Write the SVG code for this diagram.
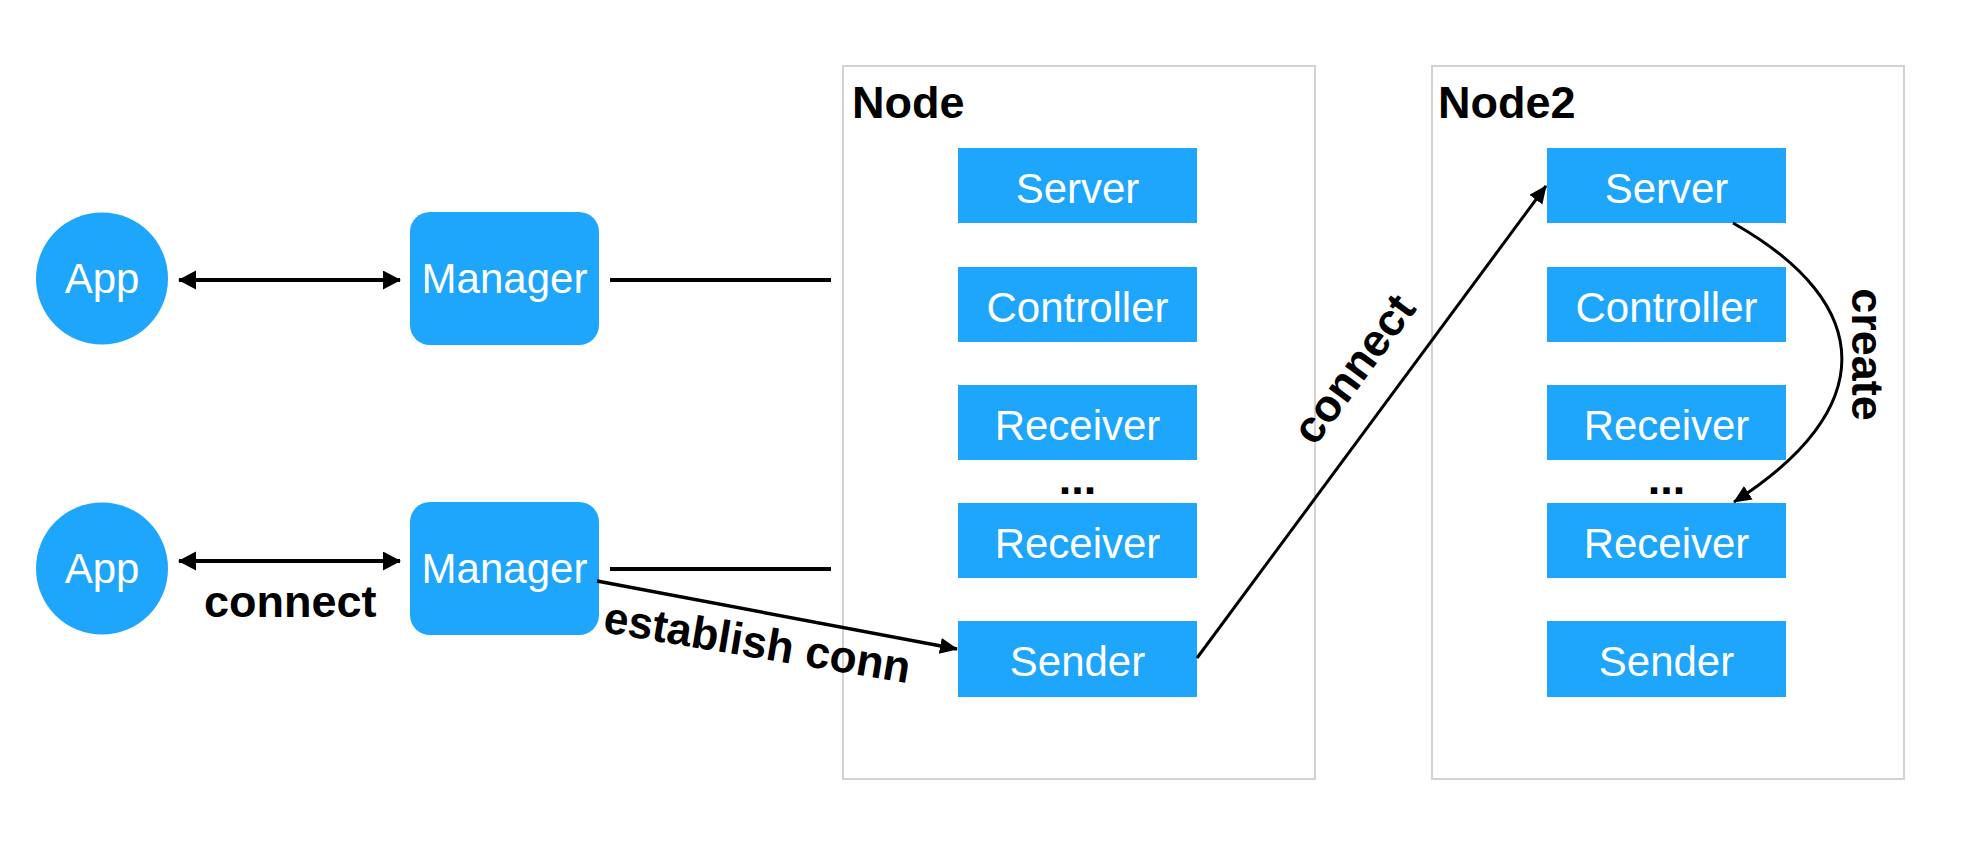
<svg xmlns="http://www.w3.org/2000/svg" width="1976" height="856" viewBox="0 0 1976 856">
<style>
.bg{fill:#ffffff}
.blue{fill:#1ea5fc}
.cont{fill:none;stroke:#d2d2d2;stroke-width:2}
.ntxt{font-family:"Liberation Sans",Arial,sans-serif;font-size:42px;fill:#ffffff;text-anchor:middle}
.lbl{font-family:"Liberation Sans",Arial,sans-serif;font-size:45px;font-weight:bold;fill:#000000}
.ln{fill:none;stroke:#000000}
</style>
<defs>
<marker id="ah" markerUnits="userSpaceOnUse" markerWidth="20" markerHeight="20" refX="17" refY="8" orient="auto-start-reverse">
<path d="M0,0 L18,8 L0,16 z" fill="#000000"/>
</marker>
<marker id="ah2" markerUnits="userSpaceOnUse" markerWidth="20" markerHeight="20" refX="17" refY="9.5" orient="auto-start-reverse">
<path d="M0,0 L18,9.5 L0,19 z" fill="#000000"/>
</marker>
</defs>
<rect class="bg" x="0" y="0" width="1976" height="856"/>

<g id="node1-container">
<rect class="cont" x="843" y="66" width="472" height="713"/>
<text class="lbl" x="852" y="118">Node</text>
</g>
<g id="node2-container">
<rect class="cont" x="1432" y="66" width="472" height="713"/>
<text class="lbl" x="1438" y="118">Node2</text>
</g>

<g id="app1">
<circle class="blue" cx="102" cy="278.5" r="66"/>
<text class="ntxt" x="102" y="293">App</text>
</g>
<g id="manager1">
<rect class="blue" x="410" y="212" width="189" height="133" rx="20" ry="20"/>
<text class="ntxt" x="504.5" y="293">Manager</text>
</g>
<g id="app2">
<circle class="blue" cx="102" cy="568.5" r="66"/>
<text class="ntxt" x="102" y="583">App</text>
</g>
<g id="manager2">
<rect class="blue" x="410" y="502" width="189" height="133" rx="20" ry="20"/>
<text class="ntxt" x="504.5" y="583">Manager</text>
</g>

<g id="n1-server"><rect class="blue" x="958" y="148" width="239" height="75"/><text class="ntxt" x="1077.5" y="203">Server</text></g>
<g id="n1-controller"><rect class="blue" x="958" y="267" width="239" height="75"/><text class="ntxt" x="1077.5" y="322">Controller</text></g>
<g id="n1-receiver1"><rect class="blue" x="958" y="385" width="239" height="75"/><text class="ntxt" x="1077.5" y="440">Receiver</text></g>
<g id="n1-dots"><text class="lbl" x="1077.5" y="494" text-anchor="middle">...</text></g>
<g id="n1-receiver2"><rect class="blue" x="958" y="503" width="239" height="75"/><text class="ntxt" x="1077.5" y="558">Receiver</text></g>
<g id="n1-sender"><rect class="blue" x="958" y="621" width="239" height="76"/><text class="ntxt" x="1077.5" y="676">Sender</text></g>

<g id="n2-server"><rect class="blue" x="1547" y="148" width="239" height="75"/><text class="ntxt" x="1666.5" y="203">Server</text></g>
<g id="n2-controller"><rect class="blue" x="1547" y="267" width="239" height="75"/><text class="ntxt" x="1666.5" y="322">Controller</text></g>
<g id="n2-receiver1"><rect class="blue" x="1547" y="385" width="239" height="75"/><text class="ntxt" x="1666.5" y="440">Receiver</text></g>
<g id="n2-dots"><text class="lbl" x="1666.5" y="494" text-anchor="middle">...</text></g>
<g id="n2-receiver2"><rect class="blue" x="1547" y="503" width="239" height="75"/><text class="ntxt" x="1666.5" y="558">Receiver</text></g>
<g id="n2-sender"><rect class="blue" x="1547" y="621" width="239" height="76"/><text class="ntxt" x="1666.5" y="676">Sender</text></g>

<g id="connectors">
<line class="ln" x1="179" y1="280" x2="400" y2="280" stroke-width="4" marker-start="url(#ah2)" marker-end="url(#ah2)"/>
<line class="ln" x1="610" y1="280" x2="831" y2="280" stroke-width="4"/>
<line class="ln" x1="179" y1="561" x2="400" y2="561" stroke-width="4" marker-start="url(#ah2)" marker-end="url(#ah2)"/>
<line class="ln" x1="610" y1="569" x2="831" y2="569" stroke-width="4"/>
<line class="ln" x1="597" y1="581" x2="957" y2="649" stroke-width="3.5" marker-end="url(#ah)"/>
<line class="ln" x1="1197" y1="658" x2="1546" y2="186" stroke-width="3" marker-end="url(#ah)"/>
<path class="ln" d="M1733,223 C1878,305 1878,410 1734,502" stroke-width="3" marker-end="url(#ah)"/>
<text class="lbl" x="204" y="617">connect</text>
<text class="lbl" x="602" y="632" transform="rotate(9.5 602 632)" textLength="310" lengthAdjust="spacingAndGlyphs">establish conn</text>
<text class="lbl" x="1366" y="378" text-anchor="middle" transform="rotate(-53.5 1366 378)">connect</text>
<text class="lbl" x="1852" y="354.5" text-anchor="middle" transform="rotate(90 1852 354.5)">create</text>
</g>
</svg>
